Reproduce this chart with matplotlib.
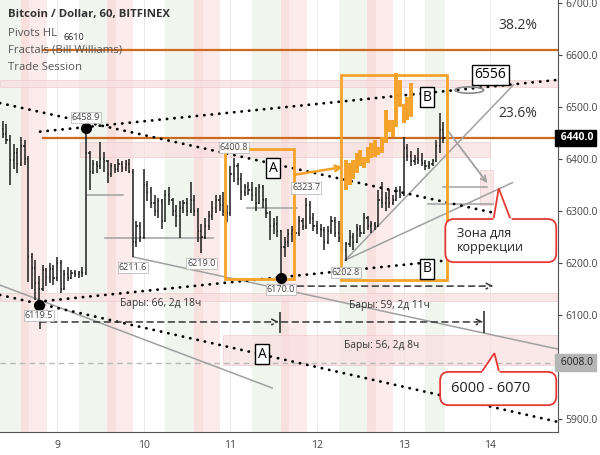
import numpy as np
import matplotlib.pyplot as plt
import matplotlib.transforms as mtransforms
from matplotlib.patches import Rectangle, FancyBboxPatch, Ellipse, Polygon

plt.rcParams['font.family'] = ['Open Sans', 'DejaVu Sans']

# hourly BTC/USD bars, first bar = day 8, 09:00
first_hour = 9
opens = [6458, 6447, 6436, 6398, 6410, 6390, 6425, 6400, 6210, 6190,
         6160, 6150, 6185, 6172, 6188, 6170, 6200, 6150, 6178, 6170,
         6180, 6178, 6182, 6180, 6410, 6375, 6390, 6385, 6400, 6395,
         6370, 6385, 6380, 6390, 6382, 6390, 6375, 6240, 6270, 6250,
         6350, 6335, 6315, 6300, 6318, 6280, 6330, 6320, 6300, 6290,
         6305, 6315, 6300, 6320, 6300, 6260, 6250, 6270, 6290, 6305,
         6320, 6310, 6300, 6295, 6370, 6385, 6360, 6335, 6345, 6340,
         6330, 6315, 6345, 6320, 6295, 6270, 6275, 6260, 6230, 6240,
         6255, 6262, 6258, 6280, 6270, 6310, 6285, 6270, 6265, 6262,
         6240, 6260, 6280, 6258, 6248, 6225, 6235, 6250, 6240, 6265,
         6258, 6285, 6270, 6275, 6270, 6320, 6315, 6325, 6315, 6320,
         6338, 6330, 6420, 6405, 6395, 6400, 6398, 6392, 6385, 6390,
         6395, 6425, 6455]
highs = [6472, 6466, 6445, 6428, 6420, 6442, 6435, 6405, 6218, 6205,
         6175, 6195, 6190, 6200, 6195, 6211, 6205, 6185, 6192, 6185,
         6186, 6184, 6192, 6458.9, 6415, 6398, 6395, 6432, 6412, 6398,
         6392, 6390, 6400, 6395, 6398, 6400, 6380, 6280, 6278, 6380,
         6358, 6345, 6330, 6325, 6322, 6340, 6345, 6325, 6310, 6318,
         6320, 6325, 6356, 6330, 6305, 6275, 6285, 6300, 6318, 6330,
         6330, 6335, 6310, 6385, 6400.8, 6392, 6372, 6352, 6355, 6355,
         6345, 6352, 6350, 6325, 6300, 6285, 6290, 6262, 6250, 6265,
         6270, 6265, 6290, 6285, 6323.7, 6318, 6295, 6280, 6275, 6268,
         6270, 6290, 6288, 6280, 6255, 6240, 6262, 6258, 6275, 6272,
         6295, 6290, 6280, 6278, 6340, 6355, 6335, 6340, 6330, 6345,
         6348, 6442, 6428, 6415, 6408, 6420, 6410, 6398, 6395, 6400,
         6435, 6488, 6470]
lows = [6440, 6428, 6349, 6380, 6372, 6385, 6388, 6163, 6150, 6128,
        6119.5, 6145, 6155, 6160, 6158, 6165, 6142, 6148, 6165, 6168,
        6172, 6170, 6172, 6176, 6340, 6370, 6372, 6380, 6375, 6353,
        6365, 6372, 6375, 6375, 6376, 6372, 6211.6, 6230, 6240, 6245,
        6318, 6305, 6290, 6285, 6265, 6278, 6310, 6290, 6268, 6248,
        6295, 6290, 6295, 6290, 6240, 6219, 6245, 6262, 6282, 6295,
        6300, 6290, 6278, 6290, 6355, 6350, 6320, 6328, 6330, 6318,
        6300, 6312, 6305, 6285, 6244, 6255, 6250, 6170, 6210, 6230,
        6240, 6245, 6252, 6262, 6265, 6275, 6260, 6255, 6250, 6225,
        6235, 6255, 6250, 6240, 6215, 6202.8, 6230, 6225, 6238, 6250,
        6255, 6262, 6258, 6262, 6268, 6305, 6300, 6305, 6310, 6318,
        6325, 6328, 6395, 6385, 6388, 6390, 6385, 6378, 6380, 6385,
        6393, 6410, 6430]
closes = [6447, 6436, 6398, 6410, 6390, 6425, 6400, 6210, 6190, 6160,
          6150, 6185, 6172, 6188, 6170, 6200, 6150, 6178, 6170, 6180,
          6178, 6182, 6180, 6410, 6375, 6390, 6385, 6400, 6395, 6370,
          6385, 6380, 6390, 6382, 6390, 6375, 6240, 6270, 6250, 6350,
          6335, 6315, 6300, 6318, 6280, 6330, 6320, 6300, 6290, 6305,
          6315, 6300, 6320, 6300, 6260, 6250, 6270, 6290, 6305, 6320,
          6310, 6300, 6295, 6370, 6385, 6360, 6335, 6345, 6340, 6330,
          6315, 6345, 6320, 6295, 6270, 6275, 6260, 6230, 6240, 6255,
          6262, 6258, 6280, 6270, 6310, 6285, 6270, 6265, 6262, 6240,
          6260, 6280, 6258, 6248, 6225, 6235, 6250, 6240, 6265, 6258,
          6285, 6270, 6275, 6270, 6320, 6315, 6325, 6315, 6320, 6338,
          6330, 6420, 6405, 6395, 6400, 6398, 6392, 6385, 6390, 6395,
          6425, 6455, 6440]

# orange projected bars inside box B
proj_first = 95
proj_low = [6340, 6349, 6360, 6372, 6385, 6382, 6391, 6401, 6404, 6407,
            6410, 6430, 6452, 6442, 6461, 6500, 6468, 6474, 6481]
proj_high = [6397, 6391, 6398, 6410, 6417, 6404, 6423, 6430, 6436, 6423,
             6442, 6494, 6474, 6474, 6564, 6551, 6506, 6519, 6545]

# fractal labels
frac_bar = [23, 10, 36, 55, 64, 77, 84, 95]
frac_val = [6458.9, 6119.5, 6211.6, 6219.0, 6400.8, 6170.0, 6323.7, 6202.8]
frac_above = [True, False, False, False, True, False, True, False]
dot_bars = [23, 10, 77]

# trade sessions (fraction of the day)
days = [8, 9, 10, 11, 12, 13]
green_sess = (0.25, 0.58)
pink_dark = (0.58, 0.68)
pink_light = (0.68, 0.88)

# drawings: (days, prices)
dotted_lines = [([8.342, 14.035], [6507, 6296]),
                ([8.804, 14.80], [6452, 6552]),
                ([8.781, 13.538], [6125, 6205]),
                ([8.342, 14.80], [6138, 5893])]
gray_lines = [([8.342, 11.483], [6157, 5959]),
              ([9.878, 14.80], [6211, 6033]),
              ([12.326, 14.266], [6205, 6542]),
              ([12.326, 14.254], [6205, 6354]),
              ([9.346, 9.762], [6330, 6330]),
              ([9.554, 10.801], [6247, 6247]),
              ([11.194, 11.771], [6305, 6305]),
              ([13.457, 13.965], [6346, 6346]),
              ([13.284, 14.035], [6313, 6313])]
pink_zones = [(8.342, 14.80, 6538, 6551),
              (9.266, 14.0, 6403, 6432),
              (8.342, 14.80, 6126, 6142),
              (10.91, 14.80, 6003, 6061),
              (13.884, 14.035, 6311, 6378)]
fib_levels = [6610, 6440]
fib_labels = ['38.2%', '23.6%']
fib_start = 8.838
box_a = (10.94, 11.737, 6169, 6419)
box_b = (12.28, 13.503, 6167, 6561)

yticks = [5900, 6100, 6200, 6300, 6400, 6500, 6600, 6700]
xticks = [9, 10, 11, 12, 13, 14]

orange = '#f5a22a'
fib_col = '#cc6a1e'
red = '#e53935'

fig = plt.figure(figsize=(6, 4.55), dpi=100)
ax = fig.add_axes([0, 23 / 455, 558 / 600, 432 / 455])
ax.set_xlim(8.342, 14.78)
ax.set_ylim(5874.4, 6705.2)

# session background
t_last = 8 + (first_hour + len(closes) - 0.5) / 24
for d in days:
    for (a, b), c in [(green_sess, '#f0f5ee'), (pink_dark, '#f8e0df'), (pink_light, '#fcebeb')]:
        lo, hi = d + a, min(d + b, t_last)
        if hi > lo:
            ax.axvspan(lo, hi, color=c, lw=0, zorder=0)

for x in xticks:
    ax.axvline(x, color='#e8e8e8', lw=0.6, zorder=0.5)

for x0, x1, y0, y1 in pink_zones:
    ax.add_patch(Rectangle((x0, y0), x1 - x0, y1 - y0, fc='#f9dede', ec='#ecc6c6',
                           lw=0.6, alpha=0.7, zorder=1))

ax.axhline(6008, color='#b8b8b8', lw=1, ls=(0, (4, 3)), zorder=1.2)

for lvl, lab in zip(fib_levels, fib_labels):
    ax.plot([fib_start, 14.8], [lvl, lvl], color=fib_col, lw=1.6, zorder=2)
    ax.text(14.09, lvl + 40, lab, fontsize=10, color='#333333', zorder=6)

for xs, ys in gray_lines:
    ax.plot(xs, ys, color='#a0a0a0', lw=1.1, zorder=2)

ax.annotate('', xy=(13.965, 6353), xytext=(13.503, 6455),
            arrowprops=dict(arrowstyle='->', color='#a0a0a0', lw=1.3, shrinkA=0, shrinkB=0), zorder=2)

for xs, ys in dotted_lines:
    ax.plot(xs, ys, color='black', lw=2.0, ls=(0, (0.1, 2.6)),
            dash_capstyle='round', zorder=3)

# OHLC bars
bar_t = 8 + (first_hour + np.arange(len(closes))) / 24
tk = 0.013
ax.vlines(bar_t, lows, highs, color='#1e1e1e', lw=1.1, zorder=4)
ax.hlines(opens, bar_t - tk, bar_t, color='#1e1e1e', lw=1.1, zorder=4)
ax.hlines(closes, bar_t, bar_t + tk, color='#1e1e1e', lw=1.1, zorder=4)

proj_t = 8 + (first_hour + proj_first + np.arange(len(proj_low))) / 24
ax.vlines(proj_t, proj_low, proj_high, color=orange, lw=2.8, zorder=4)

# orange boxes and arrow
for x0, x1, y0, y1 in [box_a, box_b]:
    ax.add_patch(Rectangle((x0, y0), x1 - x0, y1 - y0, fill=False, ec=orange, lw=2, zorder=4.5))
ax.annotate('', xy=(12.30, 6384), xytext=(11.737, 6369),
            arrowprops=dict(arrowstyle='->', color=orange, lw=1.8, shrinkA=0, shrinkB=0), zorder=4.5)

# fractal dots and labels
for i in dot_bars:
    ax.plot(bar_t[i], [lows, highs][i == 23][i], 'o', color='black', ms=7, zorder=6)
for i, v, up in zip(frac_bar, frac_val, frac_above):
    ax.text(bar_t[i], v + (20 if up else -21), f'{v:.1f}', fontsize=6.5, color='#444444',
            ha='center', va='center', zorder=6,
            bbox=dict(boxstyle='square,pad=0.12', fc='white', ec='#b5b5b5', lw=0.6, alpha=0.9))

# letters
for x, y, s in [(11.494, 6382, 'A'), (11.367, 6024, 'A'), (13.272, 6518, 'B'), (13.272, 6188, 'B')]:
    ax.text(x, y, s, fontsize=10, ha='center', va='center', zorder=7,
            bbox=dict(boxstyle='square,pad=0.18', fc='white', ec='black', lw=1))
ax.text(14.0, 6561, '6556', fontsize=10, ha='center', va='center', zorder=7,
        bbox=dict(boxstyle='square,pad=0.2', fc='white', ec='black', lw=1))
ax.add_patch(Ellipse((13.757, 6532), 0.33, 12, fill=False, ec='#888888', lw=1.2, zorder=7))

# measurement arrows
dash = dict(arrowstyle='->', color='#333333', lw=1.1, ls=(0, (4, 3)), shrinkA=0, shrinkB=0)
ax.annotate('', xy=(11.56, 6086), xytext=(8.804, 6086), arrowprops=dash, zorder=5)
ax.annotate('', xy=(13.92, 6086), xytext=(11.59, 6086), arrowprops=dash, zorder=5)
ax.annotate('', xy=(14.035, 6155), xytext=(11.65, 6155), arrowprops=dash, zorder=5)
ax.vlines([8.80, 11.575, 13.931], [6072, 6065, 6065], [6124, 6105, 6107], color='#222222', lw=1.1, zorder=5)
ax.text(10.19, 6122, 'Бары: 66, 2д 18ч', fontsize=7.4, color='#333333', ha='center', va='center', zorder=6)
ax.text(12.84, 6117, 'Бары: 59, 2д 11ч', fontsize=7.4, color='#333333', ha='center', va='center', zorder=6)
ax.text(12.75, 6040, 'Бары: 56, 2д 8ч', fontsize=7.4, color='#333333', ha='center', va='center', zorder=6)

# callouts
asp = 167
for (x0, x1, y0, y1), tip, txt, ty in [((13.48, 14.76, 6201, 6284),
                                        [(14.037, 6284), (14.096, 6343), (14.231, 6284)],
                                        'Зона для\nкоррекции', 6243),
                                       ((13.42, 14.76, 5926, 5990),
                                        [(13.90, 5990), (14.046, 6026), (14.10, 5990)],
                                        '6000 - 6070', 5958)]:
    ax.add_patch(FancyBboxPatch((x0, y0), x1 - x0, y1 - y0,
                                boxstyle='round,pad=0,rounding_size=0.1', mutation_aspect=asp,
                                fc='white', ec=red, lw=1.3, zorder=8))
    ax.add_patch(Polygon(tip, closed=False, fc='white', ec=red, lw=1.3, zorder=8.5))
    ax.plot([tip[0][0] + 0.01, tip[2][0] - 0.01], [tip[0][1], tip[0][1]], color='white', lw=1.8, zorder=8.6)
    ax.text(x0 + 0.13, ty, txt, fontsize=9 if '\n' in txt else 10.5, color='#222222',
            va='center', ha='left', linespacing=1.1, zorder=9)

# axes styling
for s in ['top', 'left']:
    ax.spines[s].set_visible(False)
for s in ['right', 'bottom']:
    ax.spines[s].set_color('#555555')
ax.yaxis.tick_right()
ax.set_yticks(yticks)
ax.set_yticklabels([f'{v:.1f}' for v in yticks])
ax.set_xticks(xticks)
ax.set_xticklabels([str(x) for x in xticks])
ax.tick_params(axis='y', labelsize=7.5, colors='#444444', length=3, pad=2)
ax.tick_params(axis='x', labelsize=7.5, colors='#444444', length=0, pad=6)

trans = mtransforms.blended_transform_factory(ax.transAxes, ax.transData)
ax.text(1.0, 6440, ' 6440.0', transform=trans, fontsize=7.5, color='white', fontweight='bold',
        va='center', ha='left', clip_on=False, zorder=10,
        bbox=dict(boxstyle='square,pad=0.25', fc='black', ec='black'))
ax.text(1.0, 6008, ' 6008.0', transform=trans, fontsize=7.5, color='#222222',
        va='center', ha='left', clip_on=False, zorder=10,
        bbox=dict(boxstyle='square,pad=0.25', fc='#b5b5b5', ec='#b5b5b5'))

# header
fig.text(8 / 600, 1 - 15 / 455, 'Bitcoin / Dollar, 60, BITFINEX', fontsize=8.2, fontweight='bold',
         color='#333333', va='center')
for k, s in enumerate(['Pivots HL', 'Fractals (Bill Williams)', 'Trade Session']):
    fig.text(8 / 600, 1 - (33 + 17.5 * k) / 455, s, fontsize=8.2, color='#555555', va='center')
fig.text(63 / 600, 1 - 38 / 455, '6610', fontsize=6.5, color='#222222', va='center',
         bbox=dict(boxstyle='square,pad=0.1', fc='white', ec='none'))

fig.savefig('out.png', dpi=100)
